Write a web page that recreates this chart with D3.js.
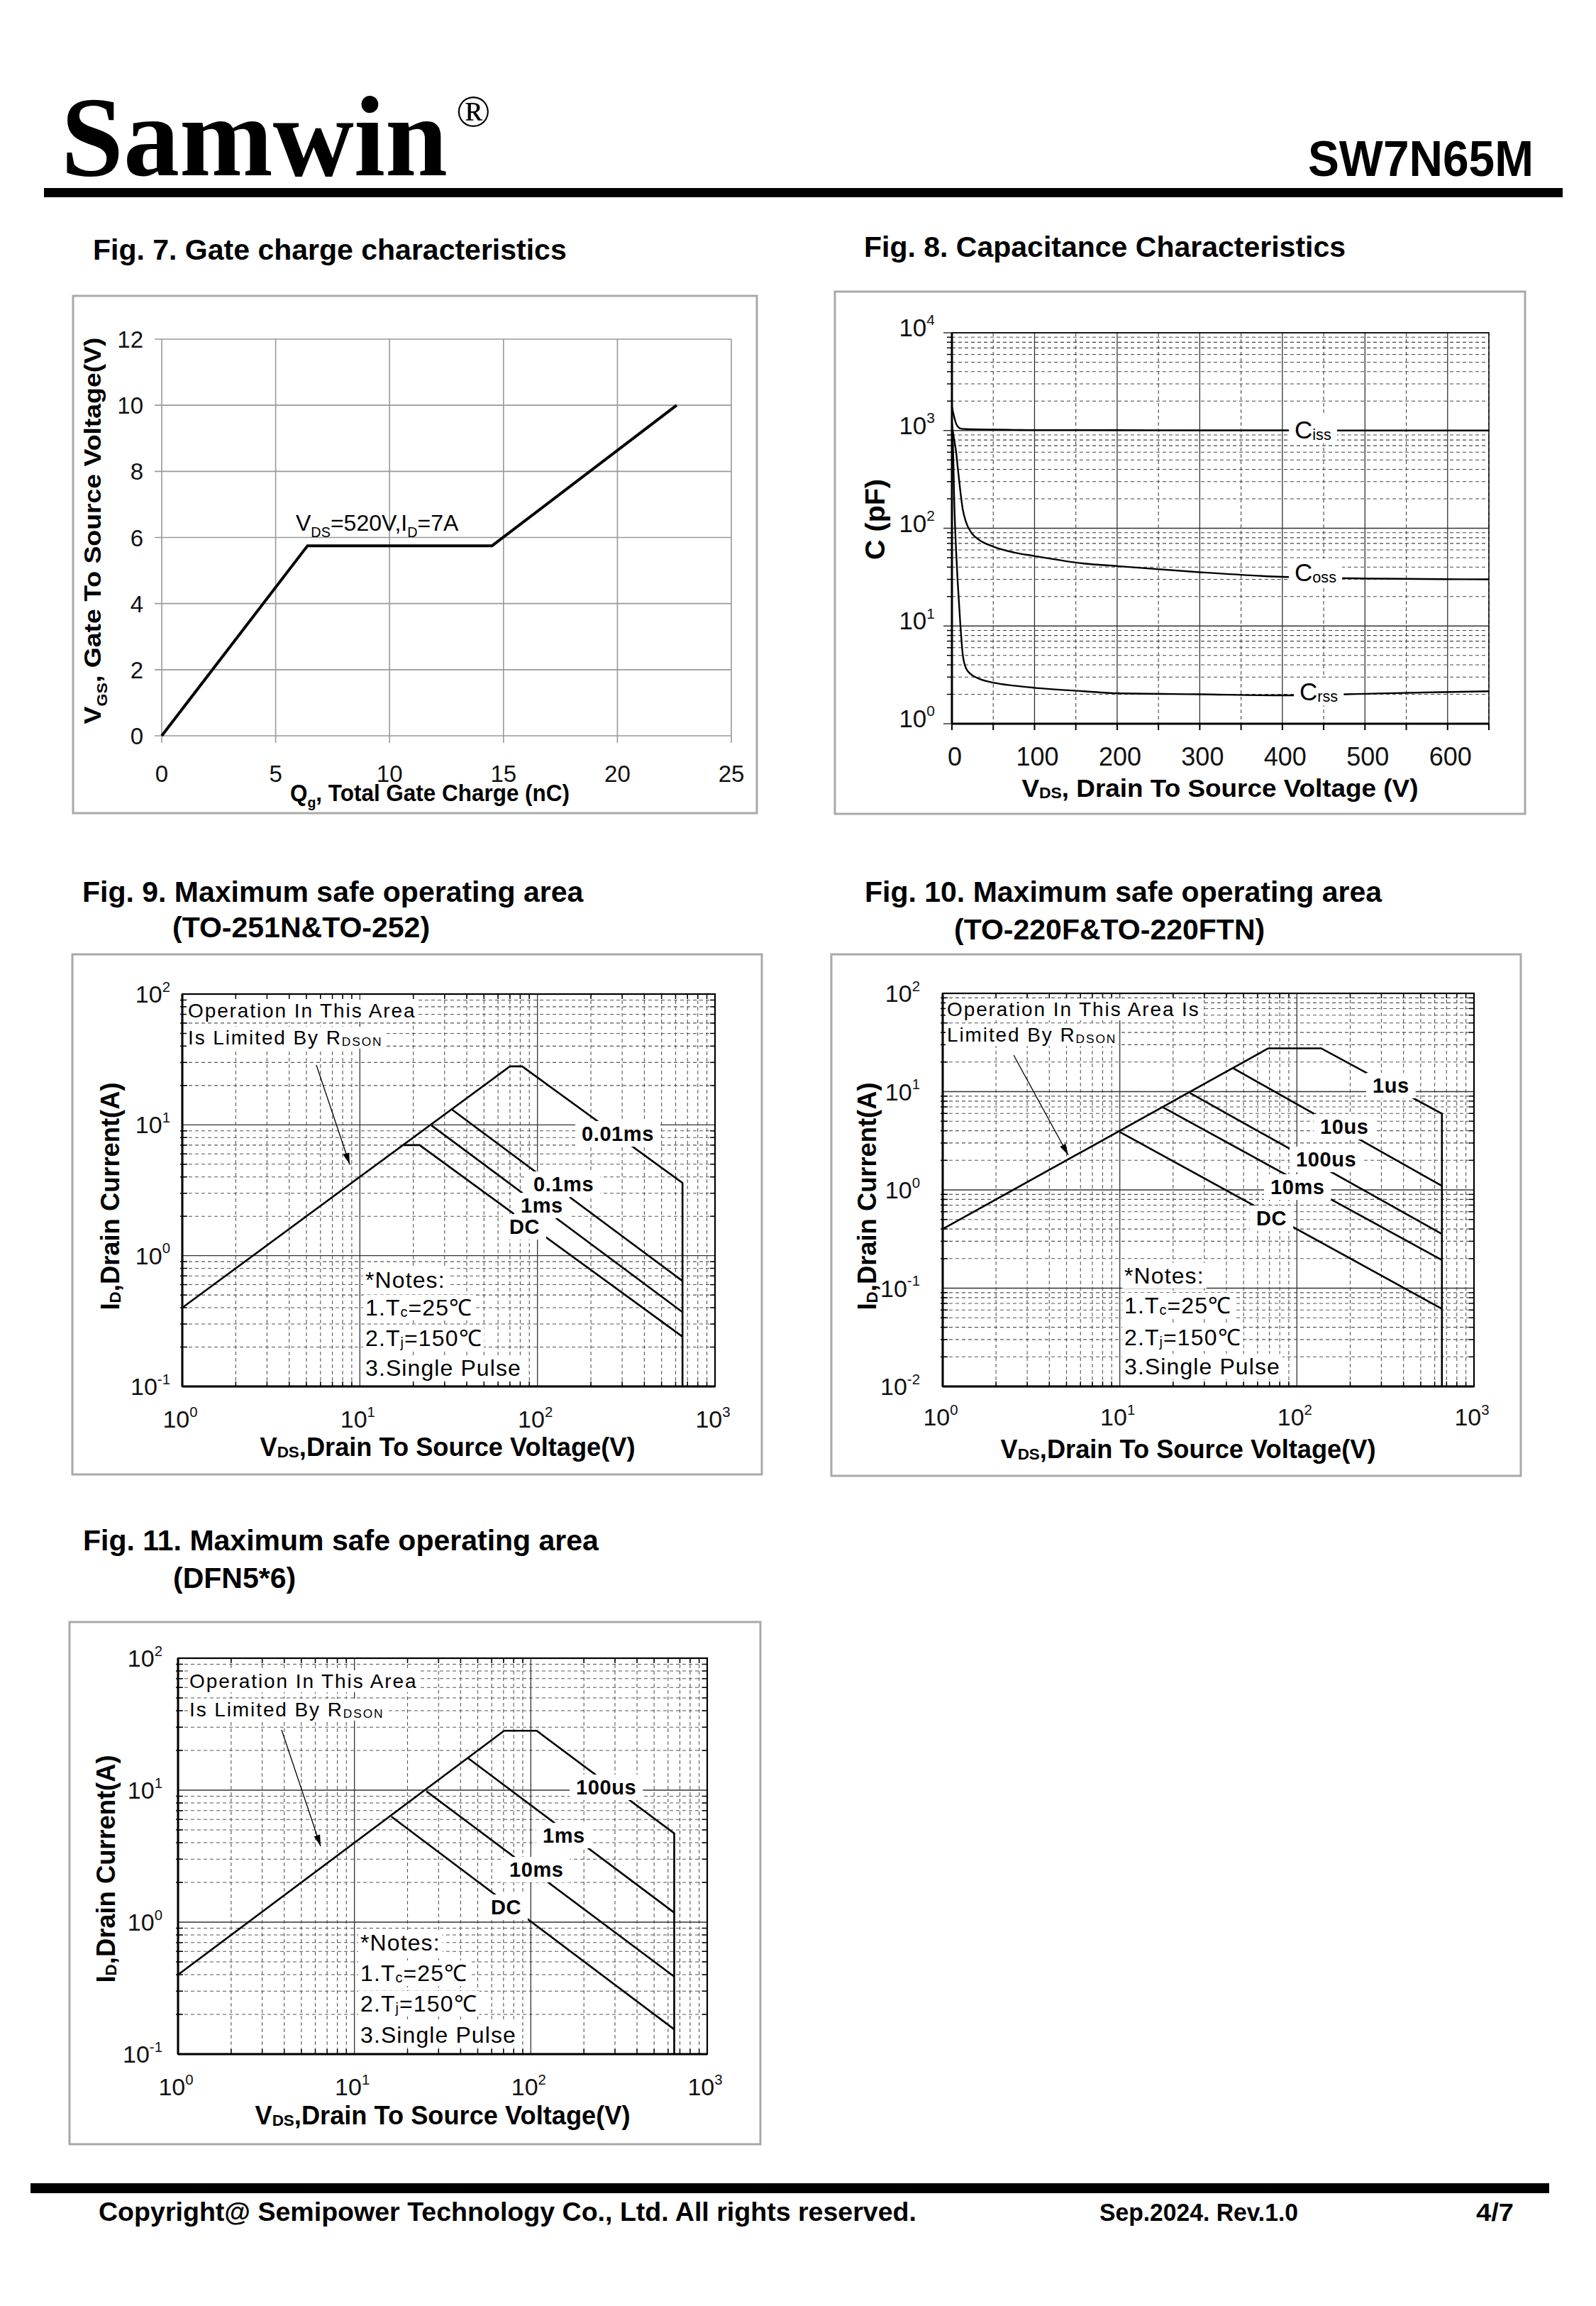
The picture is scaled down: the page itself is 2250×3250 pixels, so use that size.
<!DOCTYPE html>
<html><head><meta charset="utf-8">
<script src="https://cdn.jsdelivr.net/npm/d3@7"></script>
<style>body{margin:0;background:#fff}svg{display:block}</style>
</head><body>
<svg id="c" width="2250" height="3250"></svg>
<script>
// ---------------- DATA ----------------
// Fig.7 Gate charge
const gateChargeQ = [0, 6.4, 14.5, 22.6];
const gateChargeV = [0, 5.75, 5.75, 10];
const gateXTicks = [0, 5, 10, 15, 20, 25];
const gateYTicks = [0, 2, 4, 6, 8, 10, 12];

// Fig.8 Capacitance
const capVds  = [0, 1, 3, 5, 7, 10, 13, 17, 24, 33, 50, 75, 100, 160, 200, 300, 400, 515, 650];
const capCiss = [1750, 1600, 1350, 1180, 1100, 1050, 1040, 1035, 1030, 1025, 1020, 1015, 1010, 1010, 1008, 1005, 1003, 1000, 1000];
const capCoss = [1200, 1000, 780, 608, 422, 247, 158, 116, 89, 76, 65, 56.6, 52, 43.5, 41, 35.5, 31.8, 30.5, 30];
const capCrss = [1000, 800, 165, 60, 28, 11, 5.2, 3.7, 3.16, 2.88, 2.63, 2.45, 2.33, 2.15, 2.05, 2.0, 1.95, 2.04, 2.15];
const capXTicks = [0, 100, 200, 300, 400, 500, 600];
const capYExp = [0, 1, 2, 3, 4];
const capNames = ["iss", "oss", "rss"];

// SOA shared
const soaXExp = [0, 1, 2, 3];
const soa9YExp = [-1, 0, 1, 2];
const soa10YExp = [-2, -1, 0, 1, 2];
const soa11YExp = [-1, 0, 1, 2];

// Fig.9 (TO-251N & TO-252)
const soa9RdsonV = [1, 70],  soa9RdsonI = [0.4, 28];
const soa9P001V = [70, 82, 656, 656], soa9P001I = [28, 28, 3.6, 0.1];
const soa9P01V  = [33, 656],  soa9P01I  = [13.1, 0.64];
const soa9P1V   = [25.3, 656], soa9P1I  = [9.9, 0.37];
const soa9DCV   = [17.7, 21.7, 656], soa9DCI = [7.0, 7.0, 0.24];
const soa9Labels = ["0.01ms", "0.1ms", "1ms", "DC"];

// Fig.10 (TO-220F & TO-220FTN)
const soa10RdsonV = [1, 69], soa10RdsonI = [0.4, 27.6];
const soa10P1usV  = [69, 137, 659, 659], soa10P1usI = [27.6, 27.6, 5.97, 0.01];
const soa10P10usV = [43.4, 659], soa10P10usI = [17.4, 1.10];
const soa10P100usV = [24.9, 659], soa10P100usI = [9.7, 0.356];
const soa10P10msV = [17.6, 659], soa10P10msI = [6.9, 0.193];
const soa10DCV = [9.96, 659], soa10DCI = [3.9, 0.0617];
const soa10Labels = ["1us", "10us", "100us", "10ms", "DC"];

// Fig.11 (DFN5*6)
const soa11RdsonV = [1, 70.6], soa11RdsonI = [0.4, 28.2];
const soa11P100usV = [70.6, 108, 650, 650], soa11P100usI = [28.2, 28.2, 4.7, 0.1];
const soa11P1msV = [44.3, 650], soa11P1msI = [17.4, 1.18];
const soa11P10msV = [25.6, 650], soa11P10msI = [9.8, 0.387];
const soa11DCV = [16.2, 650], soa11DCI = [6.3, 0.154];
const soa11Labels = ["100us", "1ms", "10ms", "DC"];

// ---------------- DRAWING ----------------
const SANS = "'Liberation Sans', Arial, Helvetica, sans-serif";
const SERIF = "'Liberation Serif', 'Times New Roman', serif";
const svg = d3.select('#c');
svg.append('rect').attr('width', 2250).attr('height', 3250).attr('fill', '#fff');

function rich(sel, x, y, parts, size, o = {}) {
  const t = sel.append('text').attr('x', x).attr('y', y).attr('font-size', size)
    .attr('font-family', o.family || SANS).attr('font-weight', o.weight || 'normal')
    .attr('text-anchor', o.anchor || 'start').attr('fill', o.fill || '#000');
  if (o.ls) t.attr('letter-spacing', o.ls);
  if (o.transform) t.attr('transform', o.transform);
  if (o.len) t.attr('textLength', o.len).attr('lengthAdjust', 'spacingAndGlyphs');
  let shift = 0;
  parts.forEach(p => {
    const [s, k] = typeof p === 'string' ? [p, 'n'] : p;
    const ts = t.append('tspan').text(s);
    const target = k === 'sub' ? size * 0.28 : k === 'lo' ? size * 0.06 : k === 'sup' ? -size * 0.45 : 0;
    if (target - shift !== 0) ts.attr('dy', target - shift);
    shift = target;
    if (k !== 'n') ts.attr('font-size', size * (k === 'sup' ? 0.6 : 0.62));
  });
  return t;
}
function bg(sel, t, px = 4, py = 1) {
  const b = t.node().getBBox();
  sel.insert('rect', () => t.node()).attr('x', b.x - px).attr('y', b.y - py)
    .attr('width', b.width + 2 * px).attr('height', b.height + 2 * py).attr('fill', '#fff');
}
function frame(x0, y0, x1, y1) {
  svg.append('rect').attr('x', x0).attr('y', y0).attr('width', x1 - x0).attr('height', y1 - y0)
    .attr('fill', 'none').attr('stroke', '#a9a9a9').attr('stroke-width', 3);
}
function title(x, y, s) { rich(svg, x, y, [s], 41, { weight: 'bold' }); }
function rotTitle(g, parts, cx, cy, size, len) {
  return rich(g, 0, 0, parts, size, { weight: 'bold', anchor: 'middle', len,
    transform: `translate(${cx + size * 0.36},${cy}) rotate(-90)` });
}

// ---- Header ----
rich(svg, 86, 247, ['Samwin'], 161, { family: SERIF, weight: 'bold', len: 545 });
rich(svg, 643, 178, ['®'], 64, { family: SERIF });
rich(svg, 1844, 248, ['SW7N65M'], 70, { weight: 'bold', len: 318 });
svg.append('rect').attr('x', 62).attr('y', 265).attr('width', 2141).attr('height', 13).attr('fill', '#000');

// ---- Fig 7 ----
(function () {
  title(131, 366, 'Fig. 7. Gate charge characteristics');
  frame(103, 417, 1067, 1146);
  const g = svg.append('g');
  const x = d3.scaleLinear().domain([0, 25]).range([228, 1031]);
  const y = d3.scaleLinear().domain([0, 12]).range([1037, 478]);
  gateXTicks.forEach(v => {
    g.append('line').attr('x1', x(v)).attr('x2', x(v)).attr('y1', y(12)).attr('y2', y(0) + 10)
      .attr('stroke', '#999').attr('stroke-width', 1.6);
    rich(g, x(v), 1102, [String(v)], 33, { anchor: 'middle', fill: '#111' });
  });
  gateYTicks.forEach(v => {
    g.append('line').attr('x1', x(0) - 10).attr('x2', x(25)).attr('y1', y(v)).attr('y2', y(v))
      .attr('stroke', '#999').attr('stroke-width', 1.6);
    rich(g, 202, y(v) + 12, [String(v)], 33, { anchor: 'end', fill: '#111' });
  });
  const pts = gateChargeQ.map((q, i) => [q, gateChargeV[i]]);
  g.append('path').attr('d', d3.line().x(d => x(d[0])).y(d => y(d[1]))(pts))
    .attr('fill', 'none').attr('stroke', '#000').attr('stroke-width', 4).attr('stroke-linejoin', 'miter');
  rich(g, 417, 748, ['V', ['DS', 'sub'], '=520V,I', ['D', 'sub'], '=7A'], 32);
  rich(g, 606, 1129, ['Q', ['g', 'sub'], ', Total Gate Charge (nC)'], 33, { weight: 'bold', anchor: 'middle', len: 394 });
  rotTitle(g, ['V', ['GS', 'sub'], ',  Gate To  Source Voltage(V)'], 130, 748, 33, 545);
})();

// ---- Fig 8 ----
(function () {
  title(1218, 362, 'Fig. 8. Capacitance Characteristics');
  frame(1177, 411, 2150, 1147);
  const g = svg.append('g');
  const X0 = 1342, X1 = 2099, Y0 = 469, Y1 = 1020;
  const x = d3.scaleLinear().domain([0, 650]).range([X0, X1]);
  const y = d3.scaleLog().domain([1, 10000]).range([Y1, Y0]);
  capYExp.slice(0, -1).forEach(k => {
    for (let m = 2; m <= 9; m++) {
      const v = m * Math.pow(10, k);
      g.append('line').attr('x1', X0).attr('x2', X1).attr('y1', y(v)).attr('y2', y(v))
        .attr('stroke', '#444').attr('stroke-width', 1.1).attr('stroke-dasharray', '5,4');
      g.append('line').attr('x1', X0 - 7).attr('x2', X0).attr('y1', y(v)).attr('y2', y(v))
        .attr('stroke', '#000').attr('stroke-width', 1.5);
    }
  });
  capYExp.forEach(k => {
    const v = Math.pow(10, k);
    g.append('line').attr('x1', X0 - 12).attr('x2', X1).attr('y1', y(v)).attr('y2', y(v))
      .attr('stroke', '#333').attr('stroke-width', 1.4);
    rich(g, 1318, y(v) + 5, ['10', [String(k), 'sup']], 35, { anchor: 'end', fill: '#111' });
  });
  for (let v = 50; v <= 650; v += 50) {
    const major = capXTicks.includes(v);
    g.append('line').attr('x1', x(v)).attr('x2', x(v)).attr('y1', Y0).attr('y2', Y1)
      .attr('stroke', major ? '#333' : '#444').attr('stroke-width', major ? 1.3 : 1.1)
      .attr('stroke-dasharray', major ? null : '5,4');
  }
  for (let v = 0; v <= 650; v += 50) {
    g.append('line').attr('x1', x(v)).attr('x2', x(v)).attr('y1', Y1).attr('y2', Y1 + 9)
      .attr('stroke', '#000').attr('stroke-width', 2);
  }
  capXTicks.forEach(v => rich(g, x(v) + 4, 1079, [String(v)], 36, { anchor: 'middle', fill: '#111' }));
  const line = d3.line().x(d => x(d[0])).y(d => y(d[1])).curve(d3.curveMonotoneX);
  [capCiss, capCoss, capCrss].forEach(arr => {
    g.append('path').attr('d', line(capVds.map((v, i) => [v, arr[i]])))
      .attr('fill', 'none').attr('stroke', '#000').attr('stroke-width', 2.4);
  });
  const lab = [[1825, 618], [1825, 819], [1832, 987]];
  capNames.forEach((n, i) => {
    const t = rich(g, lab[i][0], lab[i][1], ['C', [n, 'lo']], 35);
    bg(g, t, 8, 0);
  });
  g.append('rect').attr('x', X0).attr('y', Y0).attr('width', X1 - X0).attr('height', Y1 - Y0)
    .attr('fill', 'none').attr('stroke', '#000').attr('stroke-width', 1.5);
  g.append('line').attr('x1', X0).attr('x2', X0).attr('y1', Y0).attr('y2', Y1).attr('stroke', '#000').attr('stroke-width', 3);
  g.append('line').attr('x1', X0).attr('x2', X1).attr('y1', Y1).attr('y2', Y1).attr('stroke', '#000').attr('stroke-width', 3);
  rich(g, 1720, 1123, ['V', ['DS', 'lo'], ', Drain To Source Voltage (V)'], 35, { weight: 'bold', anchor: 'middle', len: 559 });
  rotTitle(g, ['C (pF)'], 1233, 732, 38, 114);
})();

// ---- SOA generic ----
function drawSOA(o) {
  const g = svg.append('g');
  o.titles.forEach(t => title(t[0], t[1], t[2]));
  frame(o.f[0], o.f[1], o.f[2], o.f[3]);
  const [X0, X1, Y0, Y1] = o.box;
  const yExp = o.yExp;
  const x = d3.scaleLog().domain([Math.pow(10, soaXExp[0]), Math.pow(10, soaXExp[soaXExp.length - 1])]).range([X0, X1]);
  const y = d3.scaleLog().domain([Math.pow(10, yExp[0]), Math.pow(10, yExp[yExp.length - 1])]).range([Y1, Y0]);
  soaXExp.slice(0, -1).forEach(k => {
    for (let m = 2; m <= 9; m++) {
      const v = m * Math.pow(10, k);
      g.append('line').attr('x1', x(v)).attr('x2', x(v)).attr('y1', Y0).attr('y2', Y1)
        .attr('stroke', '#555').attr('stroke-width', 1.1).attr('stroke-dasharray', '5,4');
      [[Y0, Y0 + 7], [Y1 - 7, Y1]].forEach(p => g.append('line').attr('x1', x(v)).attr('x2', x(v))
        .attr('y1', p[0]).attr('y2', p[1]).attr('stroke', '#000').attr('stroke-width', 1.5));
    }
  });
  yExp.slice(0, -1).forEach(k => {
    for (let m = 2; m <= 9; m++) {
      const v = m * Math.pow(10, k);
      g.append('line').attr('x1', X0).attr('x2', X1).attr('y1', y(v)).attr('y2', y(v))
        .attr('stroke', '#555').attr('stroke-width', 1.1).attr('stroke-dasharray', '5,4');
      [[X0 - 3, X0 + 7], [X1 - 7, X1]].forEach(p => g.append('line').attr('y1', y(v)).attr('y2', y(v))
        .attr('x1', p[0]).attr('x2', p[1]).attr('stroke', '#000').attr('stroke-width', 1.5));
    }
  });
  soaXExp.forEach(k => {
    const v = Math.pow(10, k);
    g.append('line').attr('x1', x(v)).attr('x2', x(v)).attr('y1', Y0).attr('y2', Y1)
      .attr('stroke', '#333').attr('stroke-width', 1.3);
    rich(g, x(v) - 3, o.xLabY, ['10', [String(k), 'sup']], 34, { anchor: 'middle', fill: '#111' });
  });
  yExp.forEach(k => {
    const v = Math.pow(10, k);
    g.append('line').attr('x1', X0).attr('x2', X1).attr('y1', y(v)).attr('y2', y(v))
      .attr('stroke', '#333').attr('stroke-width', 1.3);
    rich(g, o.yLabX, y(v) + 12, ['10', [String(k), 'sup']], 34, { anchor: 'end', fill: '#111' });
  });
  const line = d3.line().x(d => x(d[0])).y(d => y(d[1]));
  o.curves.forEach(c => {
    g.append('path').attr('d', line(c[0].map((v, i) => [v, c[1][i]])))
      .attr('fill', 'none').attr('stroke', '#000').attr('stroke-width', 2.6).attr('stroke-linejoin', 'miter');
  });
  o.labels.forEach((s, i) => {
    const p = o.labPos[i];
    const t = rich(g, p[0], p[1], [s], 29, { weight: 'bold', ls: 0.6 });
    bg(g, t, 9, 2);
  });
  const t1 = rich(g, o.op[0], o.op[1], [o.opLines[0]], 28, { ls: 1.9 });
  const t2 = rich(g, o.op[0], o.op[2], o.opLines[1], 28, { ls: 1.9 });
  bg(g, t1, 2, 0); bg(g, t2, 2, 0);
  const [ax0, ay0, ax1, ay1] = o.arrow;
  g.append('line').attr('x1', ax0).attr('y1', ay0).attr('x2', ax1).attr('y2', ay1)
    .attr('stroke', '#000').attr('stroke-width', 1.3);
  const ang = Math.atan2(ay1 - ay0, ax1 - ax0), L = 16, W = 4.5;
  const bx = ax1 - L * Math.cos(ang), by = ay1 - L * Math.sin(ang);
  g.append('path').attr('d', `M${ax1},${ay1}L${bx - W * Math.sin(ang)},${by + W * Math.cos(ang)}L${bx + W * Math.sin(ang)},${by - W * Math.cos(ang)}Z`)
    .attr('fill', '#000');
  const notes = [['*Notes:'], ['1.T', ['c', 'lo'], '=25℃'], ['2.T', ['j', 'lo'], '=150℃'], ['3.Single Pulse']];
  notes.forEach((n, i) => {
    const t = rich(g, o.notes[0], o.notes[1][i], n, 32, { ls: 1.1 });
    bg(g, t, 3, 0);
  });
  g.append('rect').attr('x', X0).attr('y', Y0).attr('width', X1 - X0).attr('height', Y1 - Y0)
    .attr('fill', 'none').attr('stroke', '#000').attr('stroke-width', 2.2);
  g.append('line').attr('x1', X0).attr('x2', X0).attr('y1', Y0).attr('y2', Y1).attr('stroke', '#000').attr('stroke-width', 3);
  g.append('line').attr('x1', X0).attr('x2', X1).attr('y1', Y1).attr('y2', Y1).attr('stroke', '#000').attr('stroke-width', 3);
  rich(g, o.xt[0], o.xt[1], ['V', ['DS', 'lo'], ',Drain To Source Voltage(V)'], 36, { weight: 'bold', anchor: 'middle', len: 529 });
  rotTitle(g, ['I', ['D', 'lo'], ',Drain Current(A)'], o.yt[0], o.yt[1], 36, 321);
}

drawSOA({
  titles: [[116, 1271, 'Fig. 9. Maximum safe operating area'], [243, 1321, '(TO-251N&TO-252)']],
  f: [102, 1345, 1074, 2078], box: [257, 1008, 1401, 1954], yExp: soa9YExp,
  xLabY: 2012, yLabX: 240,
  curves: [[soa9RdsonV, soa9RdsonI], [soa9P001V, soa9P001I], [soa9P01V, soa9P01I], [soa9P1V, soa9P1I], [soa9DCV, soa9DCI]],
  labels: soa9Labels, labPos: [[820, 1608], [752, 1679], [734, 1709], [718, 1739]],
  op: [265, 1434, 1472], opLines: ['Operation In This Area', ['Is Limited By R', ['DSON', 'lo']]],
  arrow: [446, 1501, 493, 1641],
  notes: [515, [1815, 1854, 1897, 1939]],
  xt: [631, 2052], yt: [155, 1686]
});
drawSOA({
  titles: [[1219, 1271, 'Fig. 10. Maximum safe operating area'], [1345, 1324, '(TO-220F&TO-220FTN)']],
  f: [1172, 1345, 2144, 2080], box: [1329, 2078, 1400, 1954], yExp: soa10YExp,
  xLabY: 2009, yLabX: 1297,
  curves: [[soa10RdsonV, soa10RdsonI], [soa10P1usV, soa10P1usI], [soa10P10usV, soa10P10usI], [soa10P100usV, soa10P100usI], [soa10P10msV, soa10P10msI], [soa10DCV, soa10DCI]],
  labels: soa10Labels, labPos: [[1935, 1540], [1861, 1598], [1827, 1644], [1791, 1683], [1771, 1727]],
  op: [1335, 1432, 1468], opLines: ['Operation In This Area Is', ['Limited By R', ['DSON', 'lo']]],
  arrow: [1429, 1487, 1506, 1628],
  notes: [1585, [1809, 1851, 1896, 1937]],
  xt: [1675, 2055], yt: [1222, 1686]
});
drawSOA({
  titles: [[117, 2185, 'Fig. 11. Maximum safe operating area'], [244, 2238, '(DFN5*6)']],
  f: [98, 2286, 1072, 3022], box: [251, 997, 2337, 2895], yExp: soa11YExp,
  xLabY: 2953, yLabX: 229,
  curves: [[soa11RdsonV, soa11RdsonI], [soa11P100usV, soa11P100usI], [soa11P1msV, soa11P1msI], [soa11P10msV, soa11P10msI], [soa11DCV, soa11DCI]],
  labels: soa11Labels, labPos: [[812, 2529], [765, 2597], [718, 2645], [692, 2698]],
  op: [267, 2379, 2419], opLines: ['Operation In This Area', ['Is Limited By R', ['DSON', 'lo']]],
  arrow: [397, 2438, 452, 2602],
  notes: [508, [2749, 2792, 2835, 2879]],
  xt: [624, 2994], yt: [149, 2634]
});

// ---- Footer ----
svg.append('rect').attr('x', 43).attr('y', 3077).attr('width', 2141).attr('height', 14).attr('fill', '#000');
rich(svg, 139, 3130, ['Copyright@ Semipower Technology Co., Ltd. All rights reserved.'], 37, { weight: 'bold', len: 1153 });
rich(svg, 1550, 3130, ['Sep.2024. Rev.1.0'], 35, { weight: 'bold', len: 280 });
rich(svg, 2081, 3130, ['4/7'], 35, { weight: 'bold', len: 53 });
</script>
</body></html>
